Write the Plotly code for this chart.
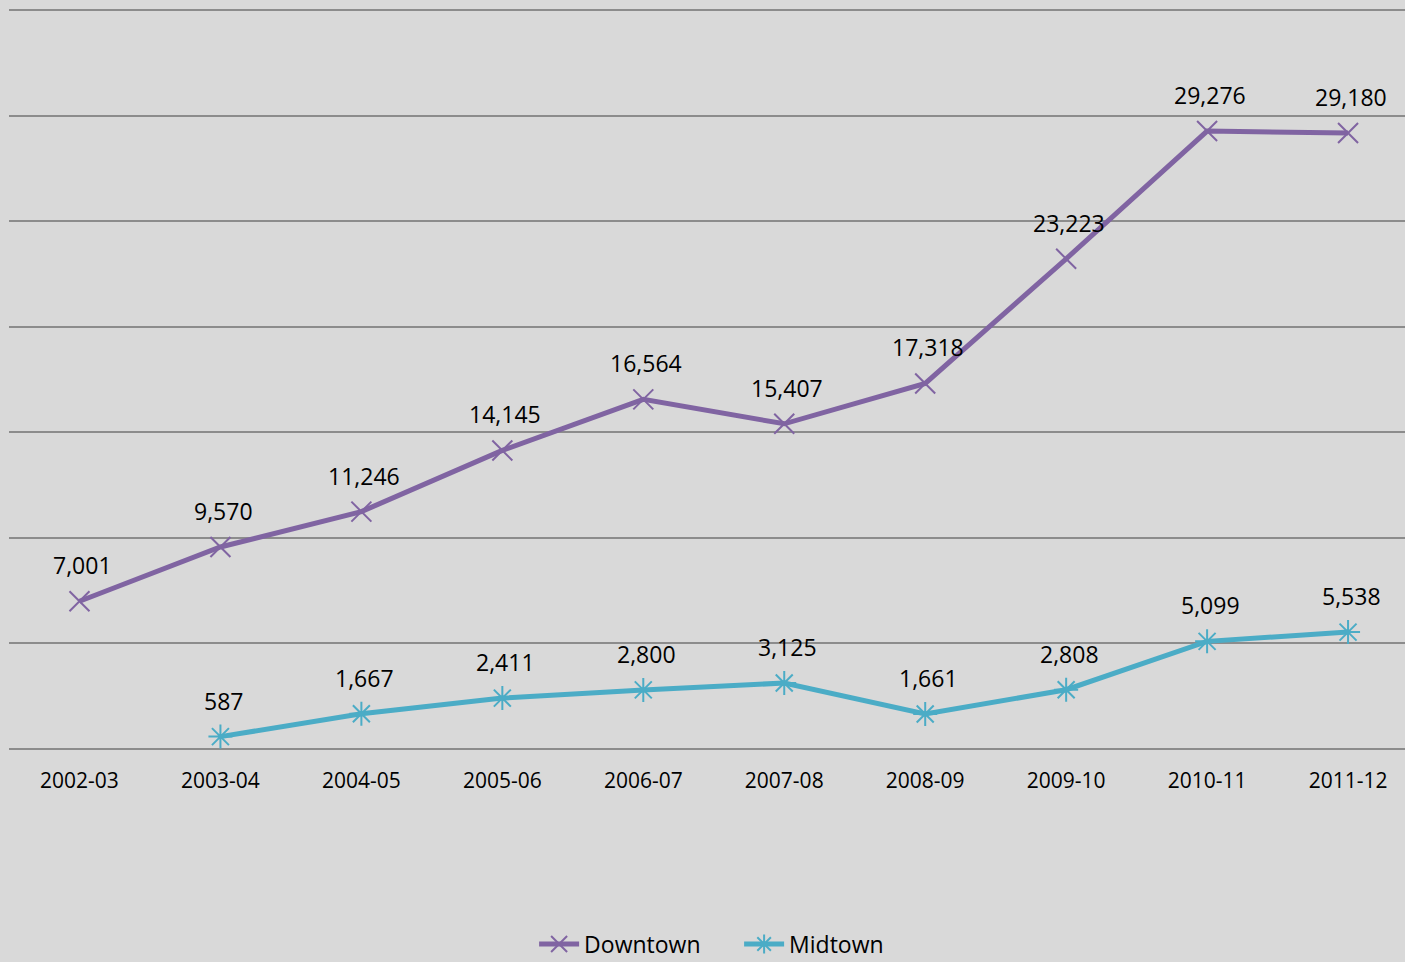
import plotly.graph_objects as go

years = ["2002-03", "2003-04", "2004-05", "2005-06", "2006-07",
         "2007-08", "2008-09", "2009-10", "2010-11", "2011-12"]
downtown = [7001, 9570, 11246, 14145, 16564, 15407, 17318, 23223, 29276, 29180]
midtown = [None, 587, 1667, 2411, 2800, 3125, 1661, 2808, 5099, 5538]

PURPLE = "#8064A2"
TEAL = "#4BACC6"
FONT = "Open Sans"

fig = go.Figure()
fig.add_trace(go.Scatter(
    x=list(range(len(years))), y=downtown, name="Downtown", mode="lines+markers",
    line=dict(color=PURPLE, width=5),
    marker=dict(symbol="x-thin", size=20, line=dict(color=PURPLE, width=2), color=PURPLE),
))
fig.add_trace(go.Scatter(
    x=list(range(len(years))), y=midtown, name="Midtown", mode="lines+markers",
    line=dict(color=TEAL, width=5),
    marker=dict(symbol="asterisk", size=20, line=dict(color=TEAL, width=2), color=TEAL),
))

for series in (downtown, midtown):
    for i, v in enumerate(series):
        if v is None:
            continue
        fig.add_annotation(x=i, y=v, text=f"{v:,}", showarrow=False,
                           yshift=36, xshift=3,
                           font=dict(family=FONT, size=23, color="#000000"))

fig.update_layout(
    width=1405, height=962,
    paper_bgcolor="#D9D9D9", plot_bgcolor="#D9D9D9",
    margin=dict(l=9, r=0, t=6, b=213, autoexpand=False),
    showlegend=True,
    legend=dict(orientation="h", x=0.523, xanchor="center", y=-0.2625, yanchor="middle",
                font=dict(family=FONT, size=23, color="#000000"),
                bgcolor="rgba(0,0,0,0)", itemwidth=40, entrywidth=150),
    font=dict(family=FONT),
)
fig.update_xaxes(
    range=[-0.5, 9.404], tickmode="array",
    tickvals=list(range(len(years))), ticktext=years,
    showgrid=False, zeroline=False, showline=False,
    ticks="outside", ticklen=13, tickcolor="rgba(0,0,0,0)",
    tickfont=dict(family=FONT, size=21, color="#000000"),
)
fig.update_yaxes(
    range=[0, 35200], tickvals=[0, 5000, 10000, 15000, 20000, 25000, 30000, 35000],
    showticklabels=False,
    showgrid=True, gridcolor="#8C8C8C", gridwidth=2,
    zeroline=True, zerolinecolor="#8C8C8C", zerolinewidth=2,
    showline=False,
)

fig.write_html("out.html", config={"displayModeBar": False},
               post_script="document.body.style.margin='0';document.body.style.background='#D9D9D9';")
